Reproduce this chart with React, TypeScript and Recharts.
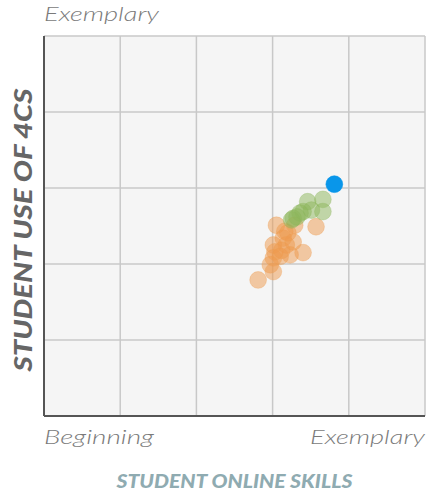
import React from 'react';
import { ScatterChart, Scatter, XAxis, YAxis, CartesianGrid, Label } from 'recharts';

// skill level (x) vs use of 4Cs (y), 0 = Beginning .. 5 = Exemplary
const orangeX = [3.57, 3.05, 3.29, 3.16, 3.14, 3.27, 3.01, 3.18, 3.03, 3.4, 3.23, 3.1, 3.01, 2.97, 3.01, 2.81, 3.12, 3.2];
const orangeY = [2.49, 2.51, 2.51, 2.43, 2.34, 2.29, 2.25, 2.25, 2.16, 2.15, 2.12, 2.1, 2.08, 1.99, 1.9, 1.79, 2.18, 2.41];
const greenX = [3.66, 3.66, 3.46, 3.51, 3.4, 3.36, 3.27, 3.25, 3.32];
const greenY = [2.85, 2.69, 2.82, 2.71, 2.69, 2.67, 2.6, 2.58, 2.62];
const blueX = [3.81];
const blueY = [3.05];

const levelTicks = [0, 1, 2, 3, 4, 5];
const levelNames: Record<number, string> = { 0: 'Beginning', 5: 'Exemplary' };
const labelWidths: Record<number, number> = { 0: 110, 5: 115 };

const toPoints = (xs: number[], ys: number[]) => xs.map((x, i) => ({ x, y: ys[i] }));

const tickFont = { fontFamily: 'Lato, sans-serif', fontStyle: 'italic', fontWeight: 300, fontSize: 20, fill: '#7a7a7a' };
const titleFont = { fontFamily: 'Lato, sans-serif', fontStyle: 'italic', fontWeight: 900 };

const XTick = (props: any) => {
  const { x, y, payload } = props;
  const name = levelNames[payload.value];
  if (!name) return null;
  return (
    <text
      x={x}
      y={y + 20}
      textAnchor={payload.value === 0 ? 'start' : 'end'}
      textLength={labelWidths[payload.value]}
      lengthAdjust="spacingAndGlyphs"
      style={tickFont}
    >
      {name}
    </text>
  );
};

const YTick = (props: any) => {
  const { y, payload } = props;
  if (payload.value !== 5) return null;
  return (
    <text x={44} y={y - 15} textAnchor="start" textLength={labelWidths[5]} lengthAdjust="spacingAndGlyphs" style={tickFont}>
      {levelNames[5]}
    </text>
  );
};

const Dot = (color: string, opacity: number) => (p: any) =>
  <circle cx={p.cx} cy={p.cy} r={8.4} fill={color} fillOpacity={opacity} stroke={color} strokeOpacity={opacity * 0.6} strokeWidth={1} />;

export default function App() {
  return (
    <div style={{ position: 'absolute', left: 0, top: 0, width: 430, height: 496, background: '#fff' }}>
      <ScatterChart width={430} height={496} margin={{ top: 36, right: 5, bottom: 0, left: 4 }}>
        <CartesianGrid fill="#f5f5f5" stroke="#c8c8c8" strokeWidth={1.5} />
        <XAxis
          type="number"
          dataKey="x"
          domain={[0, 5]}
          ticks={levelTicks}
          tick={<XTick />}
          tickLine={false}
          height={80}
          axisLine={{ stroke: '#555', strokeWidth: 2 }}
        >
          <Label
            content={(p: any) => (
              <text
                x={p.viewBox.x + p.viewBox.width / 2}
                y={p.viewBox.y + 72}
                textAnchor="middle"
                textLength={236}
                lengthAdjust="spacingAndGlyphs"
                style={{ ...titleFont, fontSize: 18, fill: '#8fabb1' }}
              >
                STUDENT ONLINE SKILLS
              </text>
            )}
          />
        </XAxis>
        <YAxis
          type="number"
          dataKey="y"
          domain={[0, 5]}
          ticks={levelTicks}
          tick={<YTick />}
          tickLine={false}
          width={40}
          axisLine={{ stroke: '#555', strokeWidth: 2 }}
        >
          <Label
            content={(p: any) => {
              const cx = p.viewBox.x + 18;
              const cy = p.viewBox.y + p.viewBox.height / 2 + 4;
              return (
                <text
                  x={cx}
                  y={cy}
                  transform={`rotate(-90 ${cx} ${cy})`}
                  textAnchor="middle"
                  dominantBaseline="central"
                  textLength={283}
                  lengthAdjust="spacingAndGlyphs"
                  style={{ ...titleFont, fontSize: 24, fill: '#666' }}
                >
                  STUDENT USE OF 4CS
                </text>
              );
            }}
          />
        </YAxis>
        <Scatter data={toPoints(orangeX, orangeY)} shape={Dot('#ee9a4d', 0.5)} isAnimationActive={false} />
        <Scatter data={toPoints(greenX, greenY)} shape={Dot('#8bb65a', 0.5)} isAnimationActive={false} />
        <Scatter data={toPoints(blueX, blueY)} shape={Dot('#0996ea', 1)} isAnimationActive={false} />
      </ScatterChart>
    </div>
  );
}
